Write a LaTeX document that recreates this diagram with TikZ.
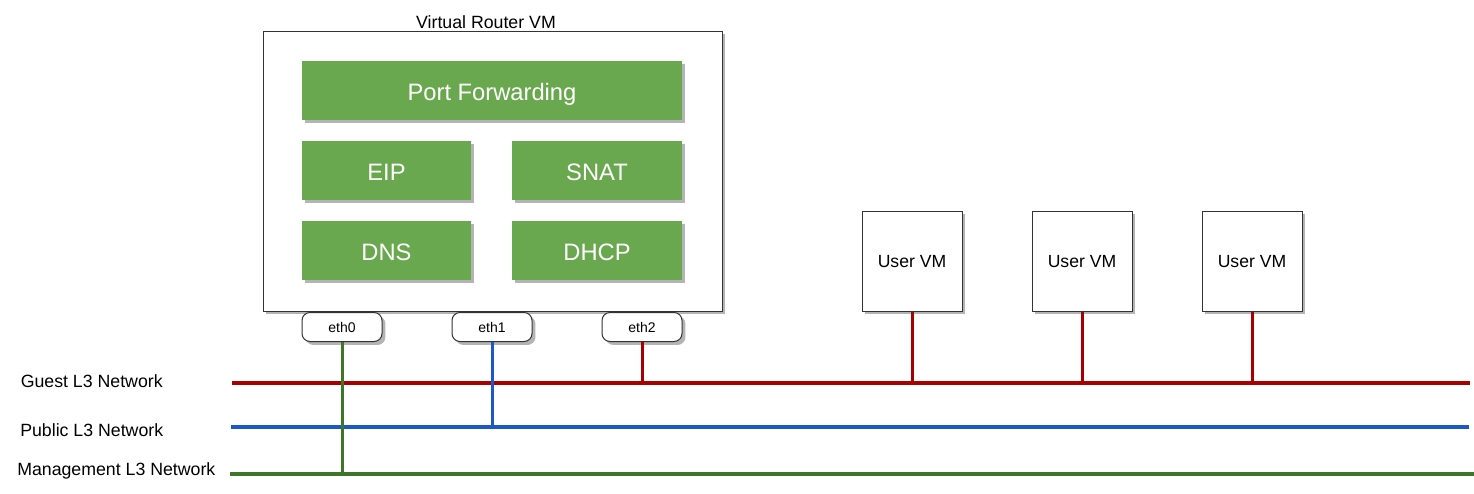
\documentclass[tikz,border=0pt]{standalone}
\usepackage{fontspec}
\setmainfont{Liberation Sans}
\usetikzlibrary{shadows}
\definecolor{busred}{RGB}{166,0,0}
\definecolor{busblue}{RGB}{28,88,200}
\definecolor{busgreen}{RGB}{62,118,40}
\definecolor{boxgreen}{RGB}{106,168,79}
\definecolor{shade}{RGB}{180,180,180}
\tikzset{
  shd/.style={drop shadow={shadow xshift=2.6pt, shadow yshift=-2.6pt, fill=shade, opacity=1}},
  frame/.style={draw=black!80, fill=white, line width=0.75pt, shd, minimum width=344.25pt, minimum height=210pt, inner sep=0pt},
  func/.style={fill=boxgreen, text=white, shd, inner sep=0pt, minimum height=44.25pt, text height=14.5pt, text depth=0pt, font=\fontsize{17.8pt}{20pt}\selectfont},
  port/.style={draw=black!80, fill=white, rounded corners=6pt, line width=0.75pt, shd, minimum width=60pt, minimum height=21.75pt, inner sep=0pt, text height=7.5pt, text depth=0pt, font=\fontsize{10.5pt}{12pt}\selectfont},
  uvm/.style={draw=black!80, fill=white, line width=0.75pt, shd, minimum width=75pt, minimum height=75pt, inner sep=0pt, text height=9.5pt, text depth=0pt, font=\fontsize{13.2pt}{15pt}\selectfont},
  lbl/.style={anchor=west, inner sep=0pt, font=\fontsize{13.3pt}{15pt}\selectfont},
  bus/.style={line width=3pt},
  tap/.style={line width=2.25pt}
}
\begin{document}
\begin{tikzpicture}[x=0.75pt, y=-0.75pt]
\useasboundingbox (0,0) rectangle (1474,493);
% virtual router
\node[frame] (vr) at (492.5,171) {};
\node[inner sep=0pt, font=\fontsize{13.3pt}{15pt}\selectfont] (vrt) at (486,22) {Virtual Router VM};
\node[func, minimum width=285pt] (pf) at (492,90.5) {Port Forwarding};
\node[func, minimum width=126.75pt] (eip) at (386.5,170.5) {EIP};
\node[func, minimum width=127.5pt] (snat) at (597,170.5) {SNAT};
\node[func, minimum width=126.75pt] (dns) at (386.5,250.5) {DNS};
\node[func, minimum width=127.5pt] (dhcp) at (597,250.5) {DHCP};
% ports
\node[port] (eth0) at (342,327) {eth0};
\node[port] (eth1) at (492,327) {eth1};
\node[port] (eth2) at (642,327) {eth2};
% user vms
\node[uvm] (u1) at (912,261) {User VM};
\node[uvm] (u2) at (1082,261) {User VM};
\node[uvm] (u3) at (1252,261) {User VM};
% labels
\node[lbl] (lg) at (20.5,381.5) {Guest L3 Network};
\node[lbl] (lp) at (20,430) {Public L3 Network};
\node[lbl] (lm) at (17,470.5) {Management L3 Network};
% buses
\coordinate (gL) at (232,382.5);
\coordinate (gR) at (1470,382.5);
\coordinate (pL) at (231,427);
\coordinate (pR) at (1469,427);
\coordinate (mL) at (230,473.5);
\coordinate (mR) at (1474,473.5);
\draw[bus, busred] (gL) -- (gR);
\draw[bus, busblue] (pL) -- (pR);
\draw[bus, busgreen] (mL) -- (mR);
% taps
\draw[tap, busgreen] (eth0.south) -- (eth0.south |- mL);
\draw[tap, busblue] (eth1.south) -- (eth1.south |- pL);
\draw[tap, busred] (eth2.south) -- (eth2.south |- gL);
\draw[tap, busred] (u1.south) -- (u1.south |- gL);
\draw[tap, busred] (u2.south) -- (u2.south |- gL);
\draw[tap, busred] (u3.south) -- (u3.south |- gL);
\end{tikzpicture}
\end{document}
